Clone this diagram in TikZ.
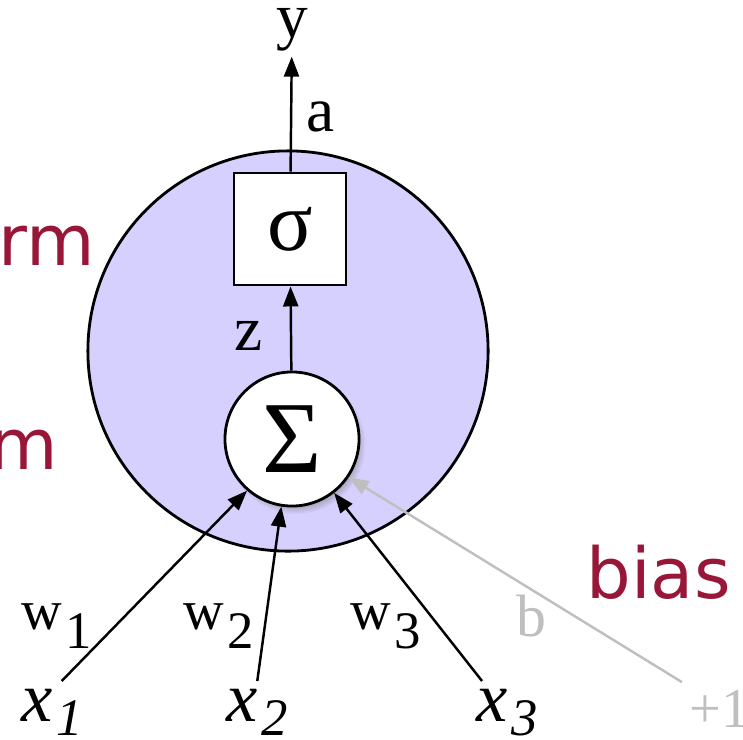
\documentclass[tikz,border=0pt]{standalone}
\usepackage{fontspec}
\setmainfont{Liberation Serif}
\newfontfamily\notefont{DejaVu Sans}
\usetikzlibrary{arrows.meta,shadows}
\definecolor{cellfill}{RGB}{214,208,255}
\definecolor{notered}{RGB}{152,22,56}
\begin{document}
\begin{tikzpicture}[x=0.01cm,y=-0.01cm]
\tikzstyle{cell}=[draw, circle, line width=0.8pt, fill=cellfill, minimum size=4cm, inner sep=0pt]
\tikzstyle{sumnode}=[draw, circle, line width=0.8pt, fill=white, minimum size=1.34cm, inner sep=0pt,
    circular drop shadow={shadow xshift=1pt, shadow yshift=-1.5pt, shadow scale=1.04, opacity=0.6}]
\tikzstyle{actbox}=[draw, rectangle, line width=0.8pt, fill=white, minimum size=1.12cm, inner sep=0pt]
\tikzstyle{input}=[anchor=base west, inner sep=0.07cm, font=\fontsize{20}{20}\selectfont\itshape]
\tikzstyle{weight}=[anchor=base west, inner sep=0pt, font=\fontsize{16}{16}\selectfont]
\tikzstyle{var}=[anchor=base, inner sep=0pt, font=\fontsize{18}{18}\selectfont]
\tikzstyle{note}=[inner sep=0pt, text=notered, font=\notefont\fontsize{20}{20}\selectfont]
\tikzstyle{edge}=[line width=0.7pt, -{Triangle[length=0.2cm,width=0.15cm]}]
    \useasboundingbox (0,0) rectangle (743,739);

    \node[cell] (cell) at (288,351) {};
    \node[actbox, font=\fontsize{24}{24}\selectfont] (sig) at (290,229) {σ};
    \node[sumnode, font=\fontsize{29}{29}\selectfont] (sum) at (292,439) {Σ};

    \node[var] (y) at (292,37) {y};
    \node[var] (a) at (321,131) {a};
    \node[var] (z) at (249,350) {z};

    \node[input] (x1) at (14,721) {x\kern1pt\raisebox{-4pt}{\fontsize{15}{15}\selectfont 1}};
    \node[input] (x2) at (219,721) {x\kern1pt\raisebox{-4pt}{\fontsize{15}{15}\selectfont 2}};
    \node[input] (x3) at (469,721) {x\kern1pt\raisebox{-4pt}{\fontsize{15}{15}\selectfont 3}};
    \node[input, font=\fontsize{16}{16}\selectfont, text=black!25] (one) at (682,727) {+1};

    \node[weight] (w1) at (21,629) {w\kern1pt\raisebox{-5.4pt}{\fontsize{15}{15}\selectfont 1}};
    \node[weight] (w2) at (183,629) {w\kern1pt\raisebox{-5.4pt}{\fontsize{15}{15}\selectfont 2}};
    \node[weight] (w3) at (350,629) {w\kern1pt\raisebox{-5.4pt}{\fontsize{15}{15}\selectfont 3}};
    \node[weight, font=\fontsize{17}{17}\selectfont, text=black!25] (b) at (516,636) {b};

    \node[note, anchor=base west] (rm) at (-2,265) {rm};
    \node[note, anchor=base east] (m) at (59,469) {m};
    \node[note, anchor=base west] (bias) at (586,598) {bias};

    \draw[edge] (sum) -- (sig);
    \draw[edge, shorten >=1.5pt] (sig) -- (y);

    \draw[edge] (x1.73) -- (sum.229);
    \draw[edge] (x2.north) -- (sum.261);
    \draw[edge] (x3.129) -- (sum.308);
    \draw[edge, black!25] (one.north west) -- (sum.326);

\end{tikzpicture}
\end{document}
